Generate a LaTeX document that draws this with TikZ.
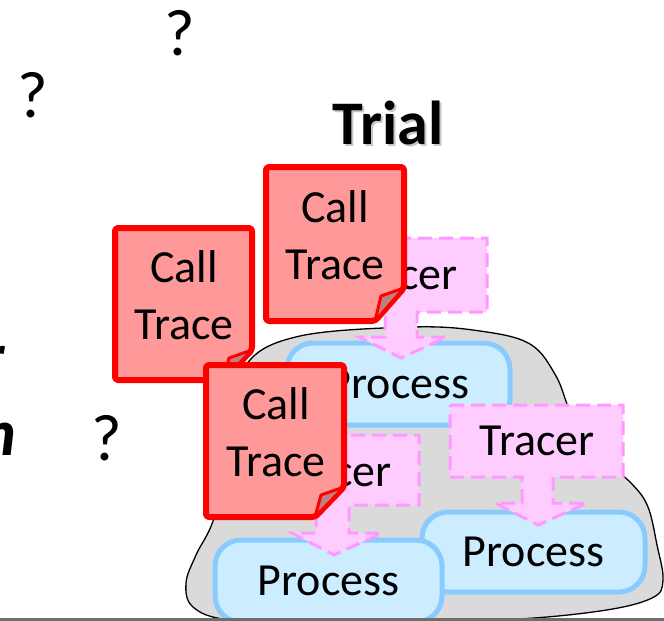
\documentclass[tikz,border=0pt]{standalone}
\usepackage{fontspec}
\setmainfont{Carlito}
\definecolor{callred}{HTML}{FF0000}
\definecolor{callfill}{HTML}{FF9999}
\definecolor{foldfill}{HTML}{C08080}
\definecolor{procline}{HTML}{88CCFF}
\definecolor{procfill}{HTML}{CCECFF}
\definecolor{tracerline}{HTML}{FF99FF}
\definecolor{tracerfill}{HTML}{FFCCFF}
\definecolor{blobfill}{HTML}{DADADA}
\definecolor{rulegray}{HTML}{6E6E6E}
\begin{document}
\begin{tikzpicture}[x=1pt,y=-1pt,
  txt/.style={font=\fontsize{46}{57}\selectfont, inner sep=0pt, align=center},
  qmark/.style={font=\fontsize{66}{70}\selectfont, inner sep=0pt},
  callbox/.style={draw=callred, fill=callfill, line width=6pt, rounded corners=3pt, line join=round},
  foldpart/.style={draw=callred, fill=foldfill, line width=3pt, line join=round},
  procbox/.style={draw=procline, fill=procfill, line width=5pt, rounded corners=26pt,
    font=\fontsize{46}{57}\selectfont, inner sep=0pt},
  tracerbox/.style={draw=tracerline, fill=tracerfill, line width=3pt, dash pattern=on 14pt off 7pt},
  blob/.style={draw=black, fill=blobfill, line width=1.3pt}]
\useasboundingbox (0,0) rectangle (664,621);
\clip (0,0) rectangle (664,621);

% scattered question marks and cut-off words at the left edge
\node[qmark] (q1) at (180,33) {?};
\node[qmark] (q2) at (33,95) {?};
\node[qmark] (q3) at (107,438) {?};
\node[font=\fontsize{66}{70}\selectfont\bfseries\itshape, inner sep=0pt, anchor=base east] (w1) at (5,378) {r};
\node[font=\fontsize{66}{70}\selectfont\bfseries\itshape, inner sep=0pt, anchor=base east] (w2) at (17,455) {n};

% title with a soft drop shadow
\node[font=\fontsize{62}{66}\selectfont\bfseries, inner sep=0pt, text=black!22] (trialshadow) at (390,125) {Trial};
\node[font=\fontsize{62}{66}\selectfont\bfseries, inner sep=0pt] (trial) at (388,123) {Trial};

% the trial cloud
\draw[blob] plot[smooth cycle, tension=0.6] coordinates {
  (413,327) (480,331) (530,344) (556,376) (572,415) (600,455) (632,484)
  (648,507) (657,545) (663,580) (652,598) (600,611) (500,620) (330,624)
  (230,620) (193,607) (186,583) (196,555) (215,515) (233,430) (246,365) (300,336)};

% processes
\node[procbox, minimum width=223pt, minimum height=82pt] (p1) at (398.5,384) {Process};
\node[procbox, minimum width=223pt, minimum height=80pt] (p2) at (533.5,552) {Process};
\node[procbox, minimum width=227pt, minimum height=82pt] (p3) at (328.5,581) {Process};

% tracers with their down-arrow callouts
\draw[tracerbox] (313,238) -- (487,238) -- (487,312) -- (417,312) -- (417,337) -- (447,337)
  -- (401,358) -- (359,337) -- (385,337) -- (385,312) -- (313,312) -- cycle;
\node[txt] (t1) at (400,275) {Tracer};
\draw[tracerbox] (450,405) -- (623,405) -- (623,477) -- (553,477) -- (553,503) -- (587,503)
  -- (538,525) -- (495,503) -- (522,503) -- (522,477) -- (450,477) -- cycle;
\node[txt] (t2) at (537,441) {Tracer};
\draw[tracerbox] (246,435) -- (419,435) -- (419,505) -- (349,505) -- (349,533) -- (382,533)
  -- (334,555) -- (292,533) -- (316,533) -- (316,505) -- (246,505) -- cycle;
\node[txt] (t3) at (334,472) {Tracer};

% call traces (folded-corner notes)
\draw[callbox] (266,167) -- (404,167) -- (404,288) -- (375,321) -- (266,321) -- cycle;
\draw[foldpart] (404,288) -- (381,296) -- (375,321) -- cycle;
\node[txt] (c2) at (335,235) {Call\\Trace};

\draw[callbox] (115,228) -- (252,228) -- (252,350) -- (223,380) -- (115,380) -- cycle;
\draw[foldpart] (252,350) -- (229,358) -- (223,380) -- cycle;
\node[txt] (c1) at (184,295) {Call\\Trace};

\draw[callbox] (206,365) -- (344,365) -- (344,487) -- (315,517) -- (206,517) -- cycle;
\draw[foldpart] (344,487) -- (321,495) -- (315,517) -- cycle;
\node[txt] (c3) at (276,432) {Call\\Trace};

% rule along the bottom
\fill[rulegray] (0,617.5) rectangle (664,621);
\end{tikzpicture}
\end{document}
